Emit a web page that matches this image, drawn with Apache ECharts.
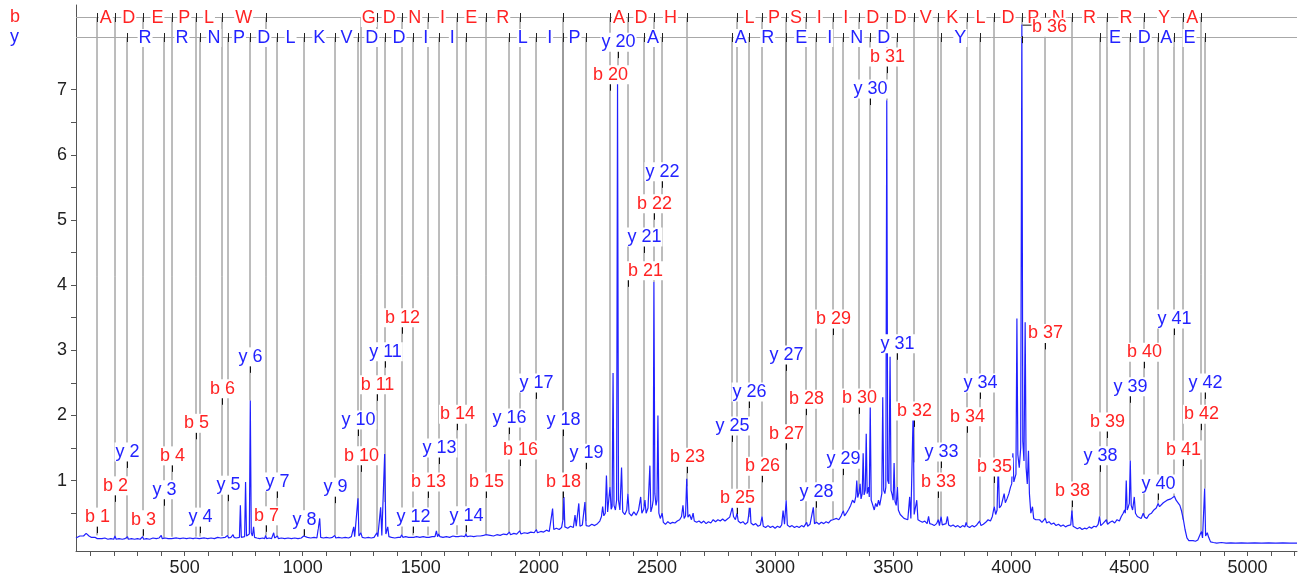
<!DOCTYPE html>
<html><head><meta charset="utf-8">
<script src="https://cdn.jsdelivr.net/npm/echarts@6/dist/echarts.min.js"></script>
<style>html,body{margin:0;padding:0;background:#fff}#c{width:1305px;height:580px}</style>
</head><body><div id="c"></div>
<script>
// ---------------- data ----------------
const xTickLabels = [500,1000,1500,2000,2500,3000,3500,4000,4500,5000];
const yTickLabels = [1,2,3,4,5,6,7];

const bIonNumbers = [1,2,3,4,5,6,7,10,11,12,13,14,15,16,18,20,21,22,23,25,26,27,28,29,30,31,32,33,34,35,36,37,38,39,40,41,42];
const bIonMasses  = [127,205,322,448,549,657,843,1246,1314,1419,1530,1653,1775,1919,2102,2301,2377,2487,2627,2839,2945,3047,3131,3244,3354,3473,3587,3689,3811,3928,4045,4142,4256,4407,4564,4729,4805];
const bLabelLevels = [0.44,0.92,0.40,1.38,1.88,2.41,0.46,1.38,2.47,3.50,0.98,2.02,0.98,1.47,0.98,7.23,4.22,5.25,1.36,0.73,1.22,1.72,2.25,3.48,2.27,7.50,2.07,0.98,1.98,1.21,7.96,3.26,0.84,1.90,2.97,1.47,2.02];
const bResidues = ['','A','D','E','P','L','W','','G','D','N','I','E','R','','','A','D','H','','L','P','S','I','I','D','D','V','K','L','D','P','N','R','R','Y','A'];

const yIonNumbers = [2,3,4,5,6,7,8,9,10,11,12,13,14,16,17,18,19,20,21,22,25,26,27,28,29,30,31,33,34,38,39,40,41,42];
const yIonMasses  = [254,411,566,682,778,893,1004,1136,1235,1350,1465,1576,1691,1875,1989,2102,2199,2333,2446,2520,2819,2891,3047,3174,3289,3403,3518,3703,3866,4374,4504,4622,4691,4819];
const yLabelLevels = [1.44,0.86,0.44,0.93,2.90,0.98,0.40,0.90,1.93,2.98,0.44,1.50,0.46,1.96,2.50,1.93,1.42,7.73,4.74,5.74,1.84,2.36,2.93,0.83,1.33,7.01,3.10,1.44,2.50,1.38,2.44,0.95,3.48,2.50];
const yResidues = ['','R','R','N','P','D','L','K','V','D','D','I','I','','L','I','P','','','A','','A','R','E','I','N','D','','Y','','E','D','A','E'];

const spectrum = [
[40,0.12],[48,0.14],[56,0.15],[64,0.16],[72,0.15],[79,0.17],[83,0.19],[87,0.16],[95,0.15],[104,0.13],[112,0.12],[120,0.13],[124,0.11],[127,0.16],[130,0.11],[138,0.12],[150,0.11],[162,0.12],[175,0.1],[188,0.11],[200,0.1],[205,0.15],[210,0.1],[222,0.11],[236,0.1],[248,0.11],[255,0.1],[258,0.14],[262,0.1],[275,0.11],[288,0.1],[300,0.11],
[312,0.1],[319,0.11],[322,0.14],[326,0.1],[338,0.11],[352,0.1],[366,0.12],[380,0.11],[392,0.12],[398,0.12],[401,0.16],[405,0.11],[418,0.12],[430,0.11],[444,0.11],[448,0.14],[452,0.11],[466,0.12],[480,0.11],[494,0.12],[508,0.11],[522,0.12],[536,0.11],[545,0.12],[549,0.14],[553,0.11],[562,0.11],[566,0.14],[570,0.11],[584,0.12],[598,0.11],[612,0.12],[626,0.11],[640,0.13],[653,0.12],[657,0.15],[661,0.12],[672,0.13],[678,0.12],[682,0.16],[686,0.12],[696,0.13],[701,0.12],[705,0.17],[709,0.13],[718,0.12],[726,0.14],
[732,0.13],[736,0.62],[740,0.13],[748,0.15],[754,0.14],[758,0.98],[762,0.15],[770,0.16],[774,0.18],[778,2.23],[782,0.2],[787,0.15],[792,0.29],[796,0.13],[806,0.12],[818,0.11],[830,0.12],[839,0.11],[843,0.16],[847,0.11],[858,0.12],[868,0.11],[873,0.12],[877,0.2],[881,0.12],[889,0.11],[893,0.15],[897,0.11],
[910,0.12],[924,0.11],[938,0.12],[952,0.11],[966,0.12],[980,0.11],[994,0.12],[1000,0.11],[1004,0.15],[1008,0.12],[1020,0.13],[1034,0.12],[1048,0.13],[1060,0.12],[1068,0.13],[1072,0.42],[1076,0.13],[1088,0.12],[1100,0.13],[1114,0.12],[1126,0.13],[1132,0.12],[1136,0.16],[1140,0.12],[1152,0.13],[1166,0.12],[1180,0.13],[1194,0.12],[1206,0.14],[1212,0.13],[1216,0.29],[1220,0.14],[1228,0.15],[1234,0.73],[1238,0.15],[1246,0.2],[1252,0.13],[1264,0.12],[1278,0.13],[1290,0.12],[1302,0.13],[1310,0.13],[1314,0.2],[1318,0.14],[1325,0.15],[1330,0.59],[1335,0.16],[1342,0.17],[1347,1.41],[1352,0.18],[1360,0.29],[1365,0.14],[1376,0.13],[1390,0.12],[1404,0.13],[1414,0.13],[1419,0.17],[1424,0.13],
[1436,0.14],[1448,0.13],[1460,0.13],[1465,0.16],[1470,0.13],[1482,0.14],[1496,0.13],[1510,0.14],[1524,0.13],[1530,0.16],[1535,0.13],[1548,0.14],[1560,0.14],[1566,0.23],[1571,0.14],[1576,0.18],[1581,0.14],[1594,0.13],[1608,0.14],[1622,0.13],[1636,0.15],[1648,0.14],[1653,0.17],[1658,0.14],[1672,0.15],[1686,0.14],[1691,0.18],[1696,0.14],[1710,0.15],[1724,0.14],[1738,0.15],[1752,0.15],[1766,0.16],[1775,0.17],[1780,0.15],[1794,0.16],[1808,0.15],[1822,0.17],[1836,0.16],[1850,0.18],[1864,0.17],[1875,0.21],[1880,0.17],[1894,0.19],[1906,0.18],[1919,0.23],[1924,0.18],[1938,0.2],[1952,0.19],[1966,0.21],[1980,0.2],[1989,0.25],[1994,0.2],
[2008,0.22],[2020,0.21],[2032,0.24],[2044,0.22],[2052,0.24],[2058,0.57],[2063,0.25],[2074,0.27],[2086,0.25],[2096,0.28],[2102,0.4],[2106,0.75],[2110,0.29],[2122,0.27],[2134,0.3],[2146,0.28],[2153,0.47],[2158,0.3],[2164,0.31],[2169,0.65],[2174,0.3],[2184,0.32],[2190,0.31],[2195,0.67],[2200,0.31],[2212,0.3],[2224,0.33],[2236,0.31],[2248,0.34],[2258,0.38],[2265,0.45],[2270,0.6],[2275,0.46],[2281,0.5],[2286,1.08],[2291,0.52],[2296,0.55],[2301,0.9],[2306,0.56],[2310,0.6],[2314,2.65],[2318,0.62],[2324,0.55],[2329,0.7],[2333,7.1],[2337,0.7],[2343,0.55],[2350,1.2],[2355,0.52],[2364,0.48],[2372,0.55],[2377,0.8],[2382,0.5],[2392,0.46],[2402,0.52],[2412,0.47],[2422,0.55],[2431,0.75],[2436,0.5],[2444,0.56],[2449,0.7],[2454,0.5],[2462,0.58],[2466,0.55],[2470,1.23],[2474,0.52],[2480,0.6],[2484,0.7],[2487,4.05],[2491,0.8],[2496,0.62],[2500,0.7],[2504,2.0],[2508,0.5],[2514,0.42],[2522,0.5],[2527,0.36],[2536,0.33],[2546,0.37],[2556,0.34],[2566,0.36],[2576,0.35],[2586,0.38],[2596,0.4],[2604,0.45],[2610,0.62],[2615,0.42],[2621,0.46],[2626,1.03],[2631,0.44],[2638,0.48],[2646,0.4],[2653,0.5],[2658,0.38],[2668,0.36],[2678,0.38],[2688,0.35],[2698,0.38],[2708,0.34],[2718,0.37],[2728,0.35],[2738,0.4],[2748,0.37],[2758,0.4],[2768,0.38],[2778,0.41],[2788,0.38],[2798,0.41],[2808,0.44],[2815,0.42],[2819,0.59],[2824,0.45],[2832,0.4],[2839,0.5],[2844,0.38],[2854,0.35],[2864,0.37],[2874,0.33],[2884,0.36],[2890,0.38],[2894,0.62],[2898,0.35],[2908,0.32],[2918,0.34],[2928,0.3],[2938,0.32],[2945,0.45],[2950,0.3],[2960,0.28],[2970,0.31],[2980,0.28],[2990,0.3],[3000,0.27],[3010,0.3],[3020,0.28],[3028,0.32],[3034,0.54],[3040,0.33],[3047,0.7],[3052,0.32],[3062,0.29],[3072,0.31],[3082,0.28],[3092,0.3],[3102,0.28],[3112,0.31],[3122,0.29],[3130,0.32],[3134,0.36],[3138,0.3],[3148,0.33],[3156,0.35],[3162,0.59],[3167,0.34],[3176,0.36],[3186,0.33],[3196,0.36],[3206,0.34],[3216,0.37],[3226,0.35],[3236,0.39],[3245,0.4],[3250,0.37],[3260,0.42],[3270,0.4],[3280,0.46],[3285,0.44],[3289,0.54],[3294,0.46],[3302,0.5],[3312,0.56],[3320,0.62],[3328,0.7],[3336,0.66],[3342,0.76],[3346,1.0],[3350,0.74],[3356,0.82],[3360,0.95],[3364,0.72],[3369,0.8],[3373,1.42],[3377,0.78],[3382,0.85],[3386,1.72],[3390,0.8],[3396,0.9],[3399,0.75],[3403,2.15],[3407,0.7],[3414,0.62],[3420,0.55],[3426,0.65],[3432,0.6],[3438,0.7],[3443,0.62],[3448,0.72],[3452,0.8],[3456,2.28],[3460,0.85],[3465,0.8],[3469,0.9],[3473,6.84],[3477,1.0],[3482,0.95],[3487,2.9],[3491,0.85],[3496,0.78],[3500,0.7],[3504,1.27],[3508,0.68],[3513,0.62],[3518,0.9],[3522,0.55],[3530,0.48],[3538,0.45],[3546,0.42],[3554,0.44],[3562,0.4],[3570,0.75],[3575,0.42],[3580,0.45],[3585,2.08],[3589,0.48],[3595,0.45],[3600,0.7],[3605,0.4],[3614,0.38],[3624,0.36],[3634,0.38],[3644,0.34],[3650,0.45],[3655,0.34],[3664,0.33],[3674,0.31],[3684,0.34],[3691,0.4],[3696,0.31],[3703,0.45],[3708,0.32],[3716,0.3],[3724,0.34],[3730,0.45],[3735,0.32],[3744,0.3],[3754,0.32],[3764,0.29],[3774,0.31],[3784,0.28],[3794,0.31],[3804,0.29],[3809,0.36],[3814,0.3],[3824,0.28],[3834,0.31],[3844,0.29],[3854,0.32],[3860,0.3],[3866,0.38],[3872,0.31],[3882,0.33],[3892,0.36],[3902,0.4],[3912,0.38],[3920,0.45],[3928,0.6],[3934,0.48],[3940,0.55],[3945,1.27],[3950,0.58],[3958,0.62],[3964,0.6],[3970,0.8],[3975,0.66],[3982,0.72],[3990,0.8],[3997,0.9],[4002,0.95],[4007,1.42],[4011,0.98],[4016,1.0],[4020,1.1],[4024,3.49],[4028,1.4],[4034,1.2],[4040,1.5],[4045,8.0],[4049,1.6],[4054,1.3],[4059,3.43],[4063,1.2],[4068,0.95],[4073,1.46],[4077,0.8],[4083,0.5],[4090,0.6],[4095,0.42],[4104,0.4],[4112,0.37],[4120,0.4],[4130,0.36],[4138,0.38],[4144,0.42],[4150,0.35],[4160,0.37],[4170,0.33],[4180,0.35],[4190,0.31],[4200,0.33],[4210,0.3],[4220,0.32],[4230,0.29],[4240,0.31],[4246,0.28],[4252,0.32],[4257,0.54],[4262,0.3],[4270,0.28],[4280,0.26],[4290,0.28],[4300,0.25],[4310,0.27],[4320,0.26],[4330,0.29],[4340,0.27],[4350,0.3],[4360,0.29],[4368,0.33],[4374,0.45],[4379,0.31],[4388,0.34],[4396,0.32],[4403,0.4],[4408,0.33],[4418,0.36],[4428,0.38],[4438,0.35],[4448,0.4],[4458,0.38],[4466,0.45],[4474,0.5],[4480,0.55],[4483,0.5],[4487,1.0],[4491,0.55],[4496,0.6],[4500,0.65],[4504,1.31],[4508,0.62],[4514,0.55],[4521,0.75],[4526,0.5],[4534,0.45],[4542,0.48],[4550,0.42],[4559,0.5],[4565,0.44],[4574,0.42],[4584,0.48],[4594,0.5],[4604,0.55],[4614,0.58],[4622,0.65],[4628,0.6],[4636,0.62],[4644,0.66],[4652,0.64],[4660,0.7],[4668,0.68],[4676,0.72],[4684,0.7],[4691,0.76],[4698,0.7],[4706,0.72],[4714,0.62],[4720,0.55],[4729,0.4],[4736,0.25],[4744,0.12],[4752,0.08],[4760,0.07],[4770,0.08],[4780,0.07],[4790,0.09],[4798,0.1],[4805,0.22],[4810,0.12],[4815,0.15],[4819,0.88],[4823,0.15],[4830,0.2],[4836,0.13],[4844,0.06],[4856,0.05],[4870,0.04],[4890,0.05],[4910,0.04],[4930,0.045],[4950,0.04],[4975,0.045],[5000,0.04],[5030,0.045],[5060,0.04],[5090,0.045],[5120,0.04],[5150,0.045],[5180,0.04],[5210,0.04]
];

// ---------------- layout / style ----------------
const RED = '#ff2323', BLUE = '#2323ff';
const FONT = '18px "Liberation Sans", Arial, sans-serif';
const ROW_PX = { b: 17, y: 37 };           // pixel rows of the sequence ladders
const labelShift = { b21: 17, b36: 27 };   // horizontal label nudges (px)
const labelConnector = { b36: true };

function specAt(m) {
  for (let i = 1; i < spectrum.length; i++) {
    if (spectrum[i][0] >= m) {
      const a = spectrum[i - 1], b = spectrum[i];
      return a[1] + (b[1] - a[1]) * (m - a[0]) / (b[0] - a[0]);
    }
  }
  return spectrum[spectrum.length - 1][1];
}

const ions = [];
bIonNumbers.forEach((n, i) => ions.push({ kind: 'b', n, mass: bIonMasses[i], level: bLabelLevels[i], res: bResidues[i], prev: i > 0 ? bIonMasses[i - 1] : null }));
yIonNumbers.forEach((n, i) => ions.push({ kind: 'y', n, mass: yIonMasses[i], level: yLabelLevels[i], res: yResidues[i], prev: i > 0 ? yIonMasses[i - 1] : null }));
ions.forEach(o => { o.bottom = specAt(o.mass); });

const xMinorTicks = [];
for (let v = 100; v <= 5200; v += 100) xMinorTicks.push(v);
const yMinorTicks = [];
for (let v = 0.5; v <= 7; v += 0.5) yMinorTicks.push(v);

const chart = echarts.init(document.getElementById('c'), null, { renderer: 'canvas' });

const px = (api, m) => Math.round(api.coord([m, 0])[0]) + 0.5;

chart.setOption({
  animation: false,
  backgroundColor: '#fff',
  grid: { left: 76, right: 8, top: 5, bottom: 29, outerBoundsMode: 'none' },
  xAxis: {
    type: 'value', min: 40, max: 5210,
    axisLine: { onZero: false, lineStyle: { color: '#555', width: 1 } },
    axisTick: { customValues: xMinorTicks, length: 5, lineStyle: { color: '#555' } },
    axisLabel: { customValues: xTickLabels, formatter: v => String(v), color: '#222', fontSize: 18, fontFamily: '"Liberation Sans", Arial, sans-serif', margin: 8 },
    splitLine: { show: false }
  },
  yAxis: {
    type: 'value', min: -0.08, max: 8.3,
    axisLine: { show: true, onZero: false, lineStyle: { color: '#555', width: 1 } },
    axisTick: { show: true, customValues: yMinorTicks, length: 5, lineStyle: { color: '#555' } },
    axisLabel: { customValues: yTickLabels, formatter: v => String(v), color: '#222', fontSize: 18, fontFamily: '"Liberation Sans", Arial, sans-serif', margin: 9 },
    splitLine: { show: false }
  },
  graphic: [
    { type: 'text', left: 10, top: 8, style: { text: 'b', fill: RED, font: FONT } },
    { type: 'text', left: 10, top: 28, style: { text: 'y', fill: BLUE, font: FONT } }
  ],
  series: [
    { // ion guide lines
      type: 'custom', z: 1, silent: true, clip: false,
      data: ions.map(o => [o.mass, o.bottom]),
      renderItem: (params, api) => {
        const o = ions[params.dataIndex];
        const x = Math.round(api.coord([o.mass, 0])[0]);
        const yb = api.coord([o.mass, o.bottom])[1];
        return { type: 'line', shape: { x1: x, y1: yb, x2: x, y2: ROW_PX[o.kind] }, style: { stroke: '#7a7a7a', lineWidth: 1 } };
      }
    },
    { // spectrum
      type: 'line', z: 2, silent: true, data: spectrum, showSymbol: false, symbol: 'none',
      sampling: false, lineStyle: { color: '#2020ff', width: 1.2 }
    },
    { // sequence ladders
      type: 'custom', z: 3, silent: true, clip: false,
      data: ions.map(o => [o.mass, 0]),
      renderItem: (params, api) => {
        const o = ions[params.dataIndex];
        const children = [];
        if (params.dataIndex === 0) {
          const cs = params.coordSys;
          ['b', 'y'].forEach(k => children.push({ type: 'line', shape: { x1: cs.x, y1: ROW_PX[k] + 0.5, x2: cs.x + cs.width, y2: ROW_PX[k] + 0.5 }, style: { stroke: '#a8a8a8', lineWidth: 1 } }));
        }
        const x = px(api, o.mass), r = ROW_PX[o.kind];
        children.push({ type: 'line', shape: { x1: x, y1: r - 4, x2: x, y2: r + 5 }, style: { stroke: '#222', lineWidth: 1 } });
        if (o.res && o.prev != null) {
          const xm = (api.coord([o.mass, 0])[0] + api.coord([o.prev, 0])[0]) / 2;
          children.push({ type: 'text', x: xm, y: r + 1, style: { text: o.res, fill: o.kind === 'b' ? RED : BLUE, font: FONT, align: 'center', verticalAlign: 'middle', backgroundColor: '#fff', padding: [0, 1, 0, 1] } });
        }
        return { type: 'group', children };
      }
    },
    { // fragment labels
      type: 'custom', z: 4, silent: true, clip: false,
      data: ions.map(o => [o.mass, o.level]),
      renderItem: (params, api) => {
        const o = ions[params.dataIndex];
        const key = o.kind + o.n;
        const x = px(api, o.mass);
        const yl = api.coord([o.mass, o.level])[1];
        const sh = labelShift[key] || 0;
        const children = [
          { type: 'line', shape: { x1: x, y1: yl + 9, x2: x, y2: yl + 16 }, style: { stroke: '#111', lineWidth: 1 } },
          { type: 'text', x: x + sh, y: yl, style: { text: o.kind + ' ' + o.n, fill: o.kind === 'b' ? RED : BLUE, font: FONT, align: 'center', verticalAlign: 'middle', backgroundColor: '#fff', padding: [1, 1, 0, 1] } }
        ];
        if (labelConnector[key]) {
          children.push({ type: 'line', shape: { x1: x, y1: yl - 2, x2: x + sh - 18, y2: yl - 2 }, style: { stroke: '#111', lineWidth: 1 } });
        }
        return { type: 'group', children };
      }
    }
  ]
});
</script>
</body></html>
